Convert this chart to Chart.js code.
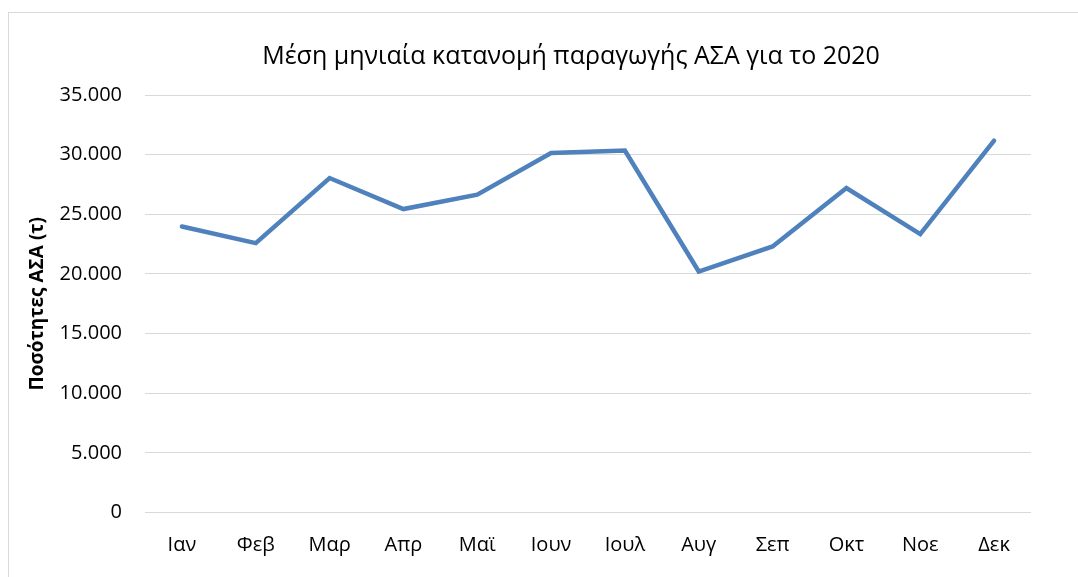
<!DOCTYPE html>
<html>
<head>
<meta charset="utf-8">
<script src="https://cdn.jsdelivr.net/npm/chart.js@4.4.0/dist/chart.umd.min.js"></script>
<style>
  body { margin: 0; background: #fff; }
  #wrap { position: relative; width: 1078px; height: 577px; overflow: hidden; }
  #frame { position: absolute; left: 8px; top: 12px; width: 1200px; height: 700px; border: 1px solid #d9d9d9; }
  canvas { position: absolute; left: 0; top: 0; }
</style>
</head>
<body>
<div id="wrap">
  <div id="frame"></div>
  <canvas id="asaChart" width="1078" height="577"></canvas>
</div>
<script>
// μήνες
var months = ["Ιαν", "Φεβ", "Μαρ", "Απρ", "Μαϊ", "Ιουν", "Ιουλ", "Αυγ", "Σεπ", "Οκτ", "Νοε", "Δεκ"];
// ποσότητες ΑΣΑ (τ)
var quantities = [23980, 22580, 28040, 25440, 26640, 30130, 30350, 20200, 22300, 27200, 23340, 31170];
var yTicks = [0, 5000, 10000, 15000, 20000, 25000, 30000, 35000];
var chartTitle = "Μέση μηνιαία κατανομή παραγωγής ΑΣΑ για το 2020";

var fontFamily = "'Open Sans', 'Noto Sans', sans-serif";

// τίτλος του γραφήματος (κεντραρισμένος πάνω από το πλαίσιο)
var titlePlugin = {
  id: 'asaTitle',
  afterDraw: function(chart) {
    var c = chart.ctx;
    c.save();
    c.fillStyle = "#000";
    c.font = "25px " + fontFamily;
    c.textAlign = "center";
    c.textBaseline = "middle";
    c.fillText(chartTitle, 571, 57);
    c.restore();
  }
};

window.onload = function() {
  var ctx = document.getElementById("asaChart").getContext("2d");

  var myLineChart = new Chart(ctx, {
    type: 'line',
    data: {
      labels: months,
      datasets: [{
        label: "Ποσότητες ΑΣΑ",
        data: quantities,
        borderColor: "#4f81bd",
        borderWidth: 4.5,
        pointRadius: 0,
        tension: 0,
        borderCapStyle: 'round',
        borderJoinStyle: 'miter',
        fill: false
      }]
    },
    plugins: [titlePlugin],
    options: {
      responsive: false,
      animation: false,
      layout: {
        padding: { top: 95, right: 47, bottom: 0, left: 0 }
      },
      plugins: {
        legend: { display: false },
        tooltip: { enabled: false },
        title: { display: false }
      },
      scales: {
        x: {
          offset: true,
          grid: { display: false, drawTicks: false },
          border: { display: false },
          ticks: {
            color: "#000",
            padding: 20.5,
            font: { family: fontFamily, size: 20 }
          },
          afterFit: function(scale) { scale.height = 64.5; }
        },
        y: {
          min: 0,
          max: 35000,
          afterBuildTicks: function(scale) {
            scale.ticks = yTicks.map(function(v) { return { value: v }; });
          },
          grid: { color: "#d9d9d9", lineWidth: 1, drawTicks: false },
          border: { display: false },
          ticks: {
            color: "#000",
            padding: 23,
            font: { family: fontFamily, size: 20 },
            callback: function(value) {
              return value.toString().replace(/\B(?=(\d{3})+(?!\d))/g, ".");
            }
          },
          title: {
            display: true,
            text: "Ποσότητες ΑΣΑ (τ)",
            color: "#000",
            font: { family: fontFamily, size: 19, weight: 'bold', lineHeight: 1.2 },
            padding: { top: 26, bottom: 0 }
          },
          afterFit: function(scale) { scale.width = 145; }
        }
      }
    }
  });
};
</script>
</body>
</html>
